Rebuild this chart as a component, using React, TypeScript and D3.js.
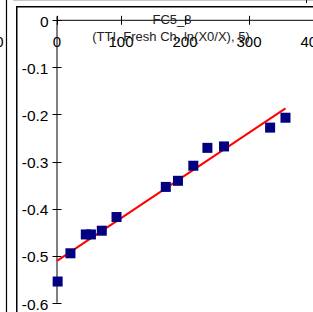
import React, { useEffect, useRef } from 'react';
import * as d3 from 'd3';

const chartTitle = 'FC5_8';
const chartSubtitle = '(TTI, Fresh Ch, ln(X0/X), 5)';

// measured points (x = time, y = ln(X0/X))
const pointX = [1, 21, 45, 53, 70, 93, 170, 189, 213, 235, 261, 333, 357];
const pointY = [-0.555, -0.495, -0.455, -0.455, -0.447, -0.418, -0.354, -0.341, -0.309, -0.271, -0.268, -0.228, -0.207];

// fitted line end points
const fitX = [0, 357];
const fitY = [-0.511, -0.187];

const xTicks = [0, 100, 200, 300, 400];
const yTicks = [0, -0.1, -0.2, -0.3, -0.4, -0.5, -0.6];

const W = 313;
const H = 312;
const FONT = '"Liberation Sans", Arial, sans-serif';

export default function App() {
  const svgRef = useRef<SVGSVGElement>(null);

  useEffect(() => {
    const svg = d3.select(svgRef.current);
    svg.selectAll('*').remove();

    const x = d3.scaleLinear().domain([0, 400]).range([57, 313]);
    const y = d3.scaleLinear().domain([-0.6, 0]).range([302.7, 20.3]);

    // neighbour panel remains
    svg.append('line')
      .attr('x1', 13).attr('x2', W).attr('y1', 0.5).attr('y2', 0.5)
      .attr('stroke', '#c8c8c8').attr('stroke-width', 1);
    svg.append('line')
      .attr('x1', 306.5).attr('x2', 306.5).attr('y1', 0).attr('y2', 3)
      .attr('stroke', '#000');
    svg.append('line')
      .attr('x1', 6.5).attr('x2', 6.5).attr('y1', 0).attr('y2', H)
      .attr('stroke', '#000').attr('stroke-width', 1.2);
    svg.append('text')
      .attr('x', 3.5).attr('y', 46.5)
      .attr('text-anchor', 'end')
      .attr('font-family', FONT).attr('font-size', 15)
      .text('400');

    // panel frame
    svg.append('path')
      .attr('d', `M16.75,${H} V6.75 H${W}`)
      .attr('fill', 'none')
      .attr('stroke', '#000')
      .attr('stroke-width', 1.5);

    // x axis (top)
    svg.append('line')
      .attr('x1', x(0)).attr('x2', W).attr('y1', y(0)).attr('y2', y(0))
      .attr('stroke', '#000');

    // y axis
    svg.append('line')
      .attr('x1', x(0)).attr('x2', x(0)).attr('y1', y(0) - 4).attr('y2', y(-0.6))
      .attr('stroke', '#808080').attr('stroke-width', 2);

    svg.selectAll('.xtick')
      .data(xTicks)
      .enter()
      .append('line')
      .attr('class', 'xtick')
      .attr('x1', (d) => Math.round(x(d)) + 0.5)
      .attr('x2', (d) => Math.round(x(d)) + 0.5)
      .attr('y1', y(0) - 4.5)
      .attr('y2', y(0) + 4.5)
      .attr('stroke', '#000');

    svg.selectAll('.xlabel')
      .data(xTicks)
      .enter()
      .append('text')
      .attr('class', 'xlabel')
      .attr('x', (d) => x(d))
      .attr('y', 46.5)
      .attr('text-anchor', 'middle')
      .attr('font-family', FONT)
      .attr('font-size', 15)
      .text((d) => String(d));

    svg.selectAll('.ytick')
      .data(yTicks)
      .enter()
      .append('line')
      .attr('class', 'ytick')
      .attr('x1', x(0) - 4.5)
      .attr('x2', x(0) + 4.5)
      .attr('y1', (d) => Math.round(y(d)) + 0.5)
      .attr('y2', (d) => Math.round(y(d)) + 0.5)
      .attr('stroke', '#000');

    svg.selectAll('.ylabel')
      .data(yTicks)
      .enter()
      .append('text')
      .attr('class', 'ylabel')
      .attr('x', 48.5)
      .attr('y', (d) => y(d))
      .attr('dy', '0.44em')
      .attr('text-anchor', 'end')
      .attr('font-family', FONT)
      .attr('font-size', 15.5)
      .text((d) => (d === 0 ? '0' : '-' + Math.abs(d).toFixed(1)));

    // titles
    svg.append('text')
      .attr('x', 172).attr('y', 24)
      .attr('text-anchor', 'middle')
      .attr('font-family', FONT).attr('font-size', 13)
      .attr('fill', '#222')
      .text(chartTitle);
    svg.append('text')
      .attr('x', 171).attr('y', 41)
      .attr('text-anchor', 'middle')
      .attr('font-family', FONT).attr('font-size', 13)
      .attr('fill', '#222')
      .text(chartSubtitle);

    // fitted line
    const line = d3.line<number>()
      .x((d, i) => x(fitX[i]))
      .y((d) => y(d));
    svg.append('path')
      .datum(fitY)
      .attr('d', line)
      .attr('fill', 'none')
      .attr('stroke', '#ff0000')
      .attr('stroke-width', 2);

    // points
    svg.selectAll('.pt')
      .data(pointX)
      .enter()
      .append('rect')
      .attr('class', 'pt')
      .attr('x', (d) => x(d) - 5)
      .attr('y', (d, i) => y(pointY[i]) - 5)
      .attr('width', 10)
      .attr('height', 10)
      .attr('fill', '#000080');
  }, []);

  return (
    <svg
      ref={svgRef}
      width={W}
      height={H}
      style={{ position: 'absolute', left: 0, top: 0, background: '#fff' }}
    />
  );
}
